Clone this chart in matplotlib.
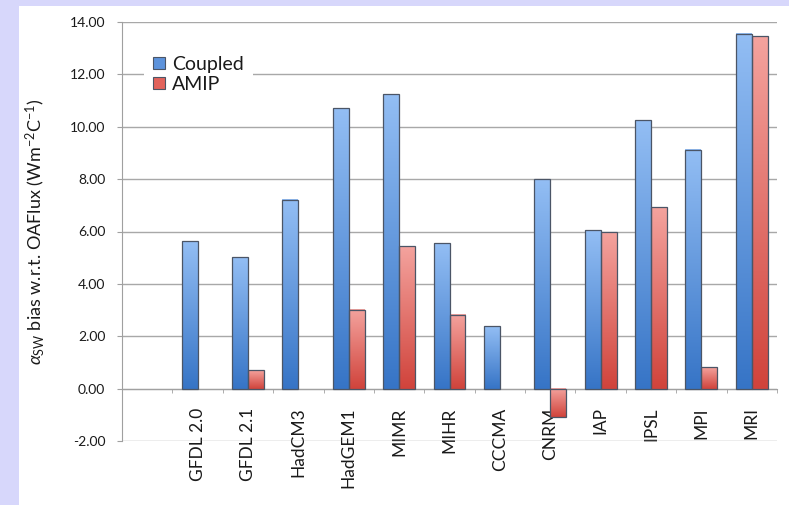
import numpy as np
import matplotlib
matplotlib.use('Agg')
import matplotlib.pyplot as plt
from matplotlib.colors import LinearSegmentedColormap
from matplotlib.patches import Rectangle, Patch

plt.rcParams['font.family'] = ['Lato', 'DejaVu Sans']
plt.rcParams['mathtext.fontset'] = 'custom'
plt.rcParams['mathtext.rm'] = 'Lato'
plt.rcParams['mathtext.it'] = 'Lato:italic'
plt.rcParams['mathtext.fallback'] = 'stixsans'

# model names and shortwave feedback bias for each experiment
models = ['GFDL 2.0', 'GFDL 2.1', 'HadCM3', 'HadGEM1', 'MIMR', 'MIHR',
          'CCCMA', 'CNRM', 'IAP', 'IPSL', 'MPI', 'MRI']
coupled = [5.62, 5.03, 7.22, 10.72, 11.26, 5.56, 2.38, 8.01, 6.07, 10.24, 9.13, 13.56]
amip = [np.nan, 0.72, np.nan, 3.02, 5.43, 2.83, np.nan, -1.10, 5.98, 6.92, 0.83, 13.46]

yticks = np.arange(-2, 15, 2)

blue_top, blue_bot = '#93bef4', '#3674c6'
red_top, red_bot = '#f4a39e', '#d0433b'
edge = '#4b5566'


def gradient_bar(ax, x0, w, h, c_top, c_bot):
    '''Draw one bar filled with a vertical gradient, light at the top.'''
    y0, y1 = min(0, h), max(0, h)
    cmap = LinearSegmentedColormap.from_list('bar', [c_top, c_bot])
    grad = np.linspace(0, 1, 256).reshape(-1, 1)
    ax.imshow(grad, cmap=cmap, extent=[x0, x0 + w, y0, y1], aspect='auto',
              origin='upper', zorder=2, interpolation='bilinear')
    ax.add_patch(Rectangle((x0, y0), w, y1 - y0, fill=False, ec=edge, lw=0.9, zorder=3))


fig = plt.figure(figsize=(7.89, 5.05), dpi=100)
fig.patch.set_facecolor('#d7d7fb')
fig.add_artist(Rectangle((19 / 789, 0), 1, 1 - 6 / 505, transform=fig.transFigure,
                         facecolor='white', edgecolor='none', zorder=0))

ax = fig.add_axes([122 / 789, 1 - 441 / 505, 655 / 789, 419 / 505])
ax.set_facecolor('none')

w = 16 / 50.4
x = np.arange(len(models))
for i in x:
    gradient_bar(ax, i - w, w, coupled[i], blue_top, blue_bot)
    if not np.isnan(amip[i]):
        gradient_bar(ax, i, w, amip[i], red_top, red_bot)

ax.set_xlim(-1.5, len(models) - 0.5)
ax.set_ylim(-2, 14)

ax.set_yticks(yticks)
ax.set_yticklabels(['%.2f' % v for v in yticks])
ax.yaxis.grid(True, color='#a8a8a8', lw=1)
ax.set_axisbelow(True)

for s in ['top', 'right']:
    ax.spines[s].set_visible(False)
ax.spines['left'].set_color('#a0a0a0')
ax.spines['bottom'].set_color('#a0a0a0')
ax.spines['bottom'].set_position(('data', 0))
ax.spines['bottom'].set_zorder(1)

ax.set_xticks(x)
ax.set_xticklabels(models, rotation=90, va='top', ha='center')
ax.set_xticks(np.arange(-1.5, len(models), 1), minor=True)
ax.tick_params(axis='x', which='major', length=0, pad=13.5, labelsize=12.5, labelcolor='#1a1a1a')
ax.tick_params(axis='x', which='minor', length=3, color='#a0a0a0', direction='out')
ax.tick_params(axis='y', length=3.6, color='#a0a0a0', pad=8.5, labelsize=10, labelcolor='#1a1a1a')

ax.set_ylabel(r'$\alpha_{\mathrm{SW}}$ bias w.r.t. OAFlux (Wm$^{\mathrm{-2}}$C$^{\mathrm{-1}}$)',
              fontsize=13, color='#1a1a1a')
ax.yaxis.set_label_coords(-0.1145, 0.5)

handles = [Patch(facecolor='#5d93dc', edgecolor=edge, lw=0.8, label='Coupled'),
           Patch(facecolor='#e2635c', edgecolor=edge, lw=0.8, label='AMIP')]
leg = ax.legend(handles=handles, loc='upper left', bbox_to_anchor=(0.018, 0.965),
                fontsize=14, frameon=True, facecolor='white', edgecolor='none',
                framealpha=1, fancybox=False, handlelength=0.6, handleheight=0.6,
                handletextpad=0.35, labelspacing=0.15, borderpad=0.5)
for t in leg.get_texts():
    t.set_color('#1a1a1a')

fig.savefig('out.png', dpi=100)
